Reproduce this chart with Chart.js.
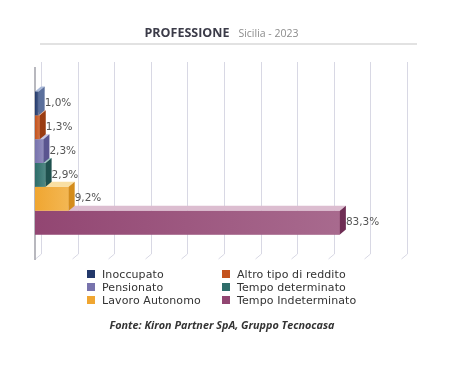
<!DOCTYPE html>
<html>
<head>
<meta charset="utf-8">
<script src="https://cdn.jsdelivr.net/npm/chart.js@4"></script>
<style>
  body { margin: 0; background: #fff; }
  #wrap { position: relative; width: 472px; height: 370px; overflow: hidden; }
  #chart { position: absolute; left: 0; top: 0; }
  #title { position: absolute; left: 0; width: 443px; top: 23px; text-align: center; white-space: nowrap; }
  #title b { font: bold 12.5px "Open Sans", sans-serif; color: #3b3b48; }
  #title span { font: 10.5px "Open Sans", sans-serif; color: #8c8c8c; margin-left: 9px; }
  #rule { position: absolute; left: 40px; top: 43px; width: 377px; height: 2px; background: #e2e2e2; }
  #legend { position: absolute; left: 87px; top: 268px; display: grid; grid-template-columns: 135px 150px; row-gap: 1px;
            font: 11px "DejaVu Sans", sans-serif; color: #333; letter-spacing: 0.1px; }
  #legend div { display: flex; align-items: center; height: 12px; white-space: nowrap; }
  #legend i { display: inline-block; width: 8px; height: 8px; margin-right: 7px; }
  #source { position: absolute; left: 0; width: 444px; top: 317px; text-align: center;
            font: italic bold 10.8px "Open Sans", sans-serif; color: #333; }
</style>
</head>
<body>
<div id="wrap">
  <canvas id="chart" width="472" height="370"></canvas>
  <div id="title"><b>PROFESSIONE</b><span>Sicilia - 2023</span></div>
  <div id="rule"></div>
  <div id="legend"></div>
  <div id="source">Fonte: Kiron Partner SpA, Gruppo Tecnocasa</div>
</div>
<script>
// Dati del grafico
const categories = ['Inoccupato', 'Altro tipo di reddito', 'Pensionato', 'Tempo determinato', 'Lavoro Autonomo', 'Tempo Indeterminato'];
const values = [1.0, 1.3, 2.3, 2.9, 9.2, 83.3];
const gridTicks = [0, 10, 20, 30, 40, 50, 60, 70, 80, 90, 100];

// Colori: base, chiaro (faccia superiore), scuro (faccia laterale)
const baseColors = ['#22386a', '#c4521d', '#7873ad', '#2e6d6a', '#f0a631', '#924672'];
const lightColors = ['#a9b9d9', '#f2bc9c', '#c8c6e2', '#9fc9c4', '#f9dfa3', '#dcbdd0'];
const darkColors = ['#5a6f9c', '#9a3c12', '#5a5590', '#1f514e', '#d48c1c', '#6f2d54'];

// profondità 3D
const DX = 6, DY = 5;

// Griglia prospettica
const gridPlugin = {
    id: 'grid3d',
    beforeDatasetsDraw(chart) {
        const ctx = chart.ctx;
        const xs = chart.scales.x;
        const area = chart.chartArea;
        ctx.save();
        ctx.strokeStyle = '#d8d8e4';
        ctx.lineWidth = 1;
        gridTicks.forEach(v => {
            const px = Math.round(xs.getPixelForValue(v)) + 0.5;
            ctx.beginPath();
            ctx.moveTo(px + DX, area.top - DY);
            ctx.lineTo(px + DX, area.bottom - DY);
            ctx.lineTo(px, area.bottom);
            ctx.stroke();
        });
        // asse verticale
        ctx.strokeStyle = '#a0a0a8';
        ctx.lineWidth = 1.5;
        ctx.beginPath();
        ctx.moveTo(area.left, area.top);
        ctx.lineTo(area.left, area.bottom + 1);
        ctx.stroke();
        ctx.restore();
    }
};

// Barre 3D + etichette
const bar3dPlugin = {
    id: 'bar3d',
    afterDatasetsDraw(chart) {
        const ctx = chart.ctx;
        const n = chart.data.datasets.length;
        ctx.save();
        for (let i = n - 1; i >= 0; i--) {
            const meta = chart.getDatasetMeta(i);
            meta.data.forEach(el => {
                const p = el.getProps(['x', 'y', 'base', 'height'], true);
                const top = p.y - p.height / 2;
                const bottom = p.y + p.height / 2;
                // faccia frontale
                const g = ctx.createLinearGradient(p.base, 0, p.x, 0);
                g.addColorStop(0, baseColors[i]);
                g.addColorStop(1, Chart.helpers.color(baseColors[i]).mix(Chart.helpers.color(lightColors[i]), 0.7).hexString());
                ctx.fillStyle = g;
                ctx.fillRect(p.base, top, p.x - p.base, bottom - top);
                // faccia superiore
                ctx.fillStyle = lightColors[i];
                ctx.beginPath();
                ctx.moveTo(p.base, top);
                ctx.lineTo(p.base + DX, top - DY);
                ctx.lineTo(p.x + DX, top - DY);
                ctx.lineTo(p.x, top);
                ctx.closePath();
                ctx.fill();
                // faccia laterale
                ctx.fillStyle = darkColors[i];
                ctx.beginPath();
                ctx.moveTo(p.x, top);
                ctx.lineTo(p.x + DX, top - DY);
                ctx.lineTo(p.x + DX, bottom - DY);
                ctx.lineTo(p.x, bottom);
                ctx.closePath();
                ctx.fill();
            });
        }
        // etichette valori
        ctx.font = '10.5px "DejaVu Sans", sans-serif';
        ctx.fillStyle = '#555';
        ctx.textAlign = 'left';
        ctx.textBaseline = 'middle';
        for (let i = 0; i < n; i++) {
            const el = chart.getDatasetMeta(i).data[0];
            const p = el.getProps(['x', 'y'], true);
            const txt = chart.data.datasets[i].data[0].toFixed(1).replace('.', ',') + '%';
            ctx.fillText(txt, p.x + 6, p.y);
        }
        ctx.restore();
    }
};

const datasets = categories.map((name, i) => ({
    label: name,
    data: [values[i]],
    backgroundColor: baseColors[i],
    borderWidth: 0
}));

new Chart(document.getElementById('chart'), {
    type: 'bar',
    data: { labels: ['Sicilia'], datasets: datasets },
    options: {
        indexAxis: 'y',
        responsive: false,
        animation: false,
        events: [],
        datasets: { bar: { categoryPercentage: 0.745, barPercentage: 1 } },
        layout: { padding: { left: 35, right: 71, top: 67, bottom: 111 } },
        plugins: { legend: { display: false }, tooltip: { enabled: false } },
        scales: {
            x: { min: gridTicks[0], max: gridTicks[gridTicks.length - 1], display: false },
            y: { display: false }
        }
    },
    plugins: [gridPlugin, bar3dPlugin]
});

// Legenda HTML
const legend = document.getElementById('legend');
categories.forEach((name, i) => {
    const item = document.createElement('div');
    item.innerHTML = `<i style="background:${baseColors[i]}"></i>${name}`;
    legend.appendChild(item);
});
</script>
</body>
</html>
